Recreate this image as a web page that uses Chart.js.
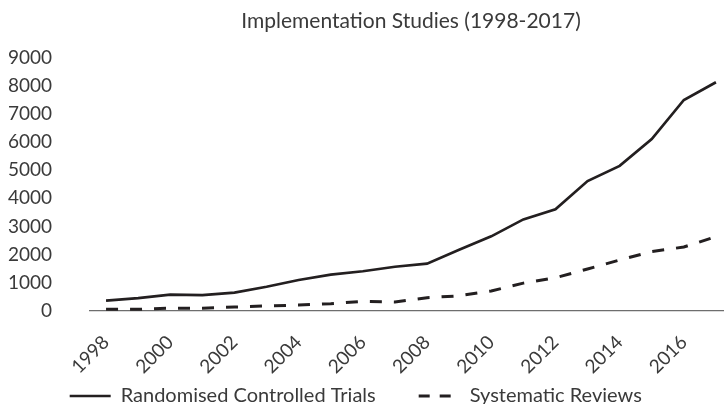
<!DOCTYPE html>
<html>
<head>
<meta charset="utf-8">
<script src="https://cdn.jsdelivr.net/npm/chart.js@4/dist/chart.umd.min.js"></script>
<style>
html,body{margin:0;padding:0;overflow:hidden;background:#ffffff;}
canvas{display:block;}
</style>
</head>
<body>
<canvas id="c" width="732" height="404"></canvas>
<script>
const titleText = 'Implementation Studies (1998-2017)';
const years = ['1998','1999','2000','2001','2002','2003','2004','2005','2006','2007',
               '2008','2009','2010','2011','2012','2013','2014','2015','2016','2017'];
const shownYearLabels = ['1998','2000','2002','2004','2006','2008','2010','2012','2014','2016'];
const rctValues = [370, 460, 580, 560, 650, 860, 1100, 1290, 1410, 1570,
                   1680, 2170, 2650, 3250, 3610, 4610, 5150, 6100, 7490, 8120];
const srValues  = [60, 60, 100, 100, 140, 180, 210, 260, 340, 320,
                   470, 540, 710, 990, 1180, 1490, 1810, 2110, 2270, 2640];
const yTickValues = [0, 1000, 2000, 3000, 4000, 5000, 6000, 7000, 8000, 9000];
const seriesNames = ['Randomised Controlled Trials', 'Systematic Reviews'];

const FONT = 'Lato';
const TEXT = '#3a3a3a';
const LINE = '#231f20';

new Chart(document.getElementById('c'), {
  type: 'line',
  data: {
    labels: years,
    datasets: [
      {
        label: seriesNames[0],
        data: rctValues,
        borderColor: LINE,
        backgroundColor: LINE,
        borderWidth: 2.7,
        pointRadius: 0,
        tension: 0,
        fill: false
      },
      {
        label: seriesNames[1],
        data: srValues,
        borderColor: LINE,
        backgroundColor: LINE,
        borderWidth: 3,
        borderDash: [12, 12],
        borderCapStyle: 'butt',
        pointRadius: 0,
        tension: 0,
        fill: false
      }
    ]
  },
  options: {
    responsive: false,
    animation: false,
    layout: { padding: { left: 0, right: 0, top: 0, bottom: -12 } },
    plugins: {
      title: {
        display: true,
        text: titleText,
        fullSize: false,
        color: TEXT,
        font: { family: FONT, size: 21, weight: 'normal', lineHeight: 1.2 },
        padding: { top: 8.4, bottom: 23.8 }
      },
      legend: {
        display: true,
        position: 'bottom',
        align: 'center',
        labels: {
          usePointStyle: true,
          pointStyle: 'line',
          pointStyleWidth: 41,
          color: TEXT,
          font: { family: FONT, size: 20 },
          padding: 2,
          generateLabels: function(chart) {
            const items = Chart.defaults.plugins.legend.labels.generateLabels(chart);
            items.forEach(function(it, i) {
              const ds = chart.data.datasets[i];
              it.lineWidth = ds.borderWidth;
              it.strokeStyle = ds.borderColor;
              it.lineCap = 'butt';
              it.lineDash = ds.borderDash ? [11, 10] : [];
            });
            // trailing blanks only widen the spacing between the two entries
            items[0].text = items[0].text + '        ';
            items[1].text = items[1].text + '    ';
            return items;
          }
        }
      },
      tooltip: { enabled: false }
    },
    scales: {
      x: {
        type: 'category',
        offset: true,
        grid: { display: false, drawTicks: false },
        border: { display: true, color: '#6e6e6e', width: 1.3 },
        ticks: {
          autoSkip: false,
          maxRotation: 45,
          minRotation: 45,
          padding: 20,
          color: TEXT,
          font: { family: FONT, size: 19 },
          callback: function(value, index) {
            const lab = years[index];
            return shownYearLabels.includes(lab) ? lab : '';
          }
        },
        afterFit: function(s) { s.height = 73; s.paddingLeft = 0; s.paddingRight = 0; }
      },
      y: {
        min: 0,
        max: 9000,
        grid: { display: false, drawTicks: false },
        border: { display: false },
        afterBuildTicks: function(s) { s.ticks = yTickValues.map(v => ({ value: v })); },
        ticks: {
          padding: 38,
          color: TEXT,
          font: { family: FONT, size: 19 },
          callback: function(v) { return String(v); }
        },
        afterFit: function(s) { s.width = 90; }
      }
    }
  }
});
</script>
</body>
</html>
